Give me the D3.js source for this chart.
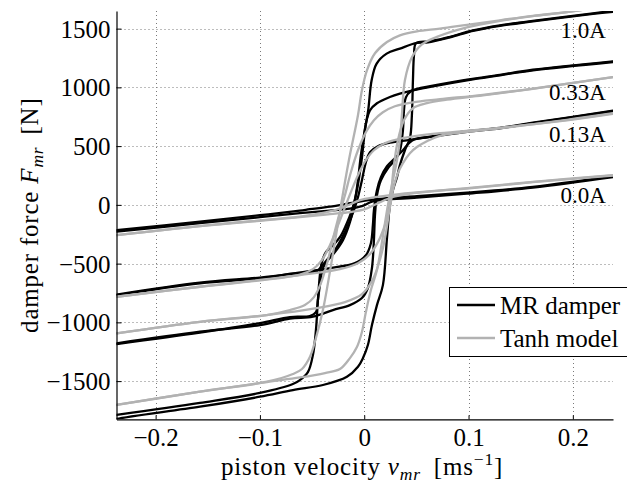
<!DOCTYPE html>
<html>
<head>
<meta charset="utf-8">
<script src="https://cdn.jsdelivr.net/npm/d3@7"></script>
<style>
  html, body { margin: 0; padding: 0; background: #fff; }
  svg text { font-family: "Liberation Serif", "Tinos", "Times New Roman", "Nimbus Roman", "DejaVu Serif", serif; }
</style>
</head>
<body>
<svg id="chart" width="627" height="485"></svg>
<script>
// Piston velocity [m/s] and damper force [N]; each loop is split into the
// branch traced while velocity falls (Up) and the one while it rises (Low).

// Measured MR damper, 0.0 A
const mr00Up = [[0.2385,244],[0.1617,153],[0.0985,104],[0.0505,74],[0.0179,53],[0.0007,36],[-0.0137,14],[-0.0329,-15],[-0.0521,-37],[-0.0617,-49],[-0.1000,-88],[-0.1575,-143],[-0.2374,-215]];
const mr00Low = [[-0.2374,-228],[-0.1575,-156],[-0.1000,-105],[-0.0617,-71],[-0.0329,-49],[-0.0137,-32],[-0.0022,-11],[0.0074,27],[0.0198,44],[0.0505,61],[0.0985,95],[0.1617,146],[0.2385,236]];

// Measured MR damper, 0.13 A
const mr13Up = [[0.2385,801],[0.1617,699],[0.1301,656],[0.0985,627],[0.0659,584],[0.0438,554],[0.0246,529],[0.0131,499],[0.0055,448],[0.0016,363],[-0.0022,210],[-0.0060,65],[-0.0099,-45],[-0.0156,-173],[-0.0214,-283],[-0.0281,-385],[-0.0358,-470],[-0.0415,-530],[-0.0453,-564],[-0.0617,-581],[-0.1000,-619],[-0.1575,-662],[-0.2374,-764]];
const mr13Low = [[-0.2374,-768],[-0.1575,-668],[-0.1000,-626],[-0.0684,-583],[-0.0329,-538],[-0.0089,-496],[0.0016,-428],[0.0064,-326],[0.0083,-173],[0.0093,-45],[0.0122,125],[0.0160,236],[0.0218,329],[0.0294,397],[0.0371,465],[0.0429,525],[0.0486,559],[0.0659,580],[0.0985,622],[0.1301,652],[0.1617,695],[0.2385,797]];

// Measured MR damper, 0.33 A
const mr33Up = [[0.2385,1216],[0.1617,1145],[0.1301,1103],[0.0985,1060],[0.0659,1009],[0.0467,975],[0.0342,947],[0.0246,918],[0.0122,865],[0.0055,805],[0.0023,720],[-0.0003,593],[-0.0032,423],[-0.0060,210],[-0.0089,40],[-0.0137,-147],[-0.0204,-300],[-0.0281,-402],[-0.0348,-470],[-0.0396,-538],[-0.0425,-683],[-0.0444,-810],[-0.0463,-912],[-0.0521,-946],[-0.0712,-955],[-0.1000,-1006],[-0.1575,-1087],[-0.2374,-1184]];
const mr33Low = [[-0.2374,-1179],[-0.1575,-1080],[-0.1000,-1023],[-0.0712,-968],[-0.0492,-951],[-0.0300,-895],[-0.0137,-853],[-0.0022,-793],[0.0035,-708],[0.0074,-538],[0.0093,-300],[0.0103,-88],[0.0122,82],[0.0160,210],[0.0227,312],[0.0294,380],[0.0342,465],[0.0371,635],[0.0381,805],[0.0400,916],[0.0448,967],[0.0659,1014],[0.0985,1065],[0.1301,1107],[0.1617,1150],[0.2385,1222]];

// Measured MR damper, 1.0 A
const mr10Up = [[0.2385,1643],[0.2193,1626],[0.1617,1562],[0.1301,1524],[0.1042,1481],[0.0822,1426],[0.0611,1383],[0.0505,1378],[0.0342,1330],[0.0215,1287],[0.0119,1202],[0.0071,1060],[0.0038,805],[0.0007,635],[-0.0025,380],[-0.0070,125],[-0.0118,-45],[-0.0175,-173],[-0.0233,-275],[-0.0300,-343],[-0.0367,-402],[-0.0406,-487],[-0.0425,-598],[-0.0444,-810],[-0.0463,-1065],[-0.0492,-1278],[-0.0540,-1423],[-0.0617,-1491],[-0.0684,-1525],[-0.1000,-1601],[-0.1575,-1686],[-0.2374,-1788]];
const mr10Low = [[-0.2438,-1839],[-0.2374,-1822],[-0.1575,-1718],[-0.1000,-1633],[-0.0684,-1576],[-0.0396,-1533],[-0.0166,-1463],[-0.0060,-1377],[-0.0012,-1304],[0.0035,-1193],[0.0074,-1023],[0.0122,-853],[0.0179,-683],[0.0218,-283],[0.0246,-3],[0.0275,125],[0.0314,236],[0.0342,338],[0.0390,465],[0.0438,567],[0.0457,763],[0.0467,1060],[0.0477,1273],[0.0496,1375],[0.0611,1392],[0.0726,1409],[0.0822,1430],[0.1042,1485],[0.1301,1528],[0.1617,1566],[0.2193,1630],[0.2385,1651]];

// Tanh model, 0.0 A
const tanh00Up = [[0.2385,253],[0.1617,196],[0.0985,142],[0.0534,108],[0.0294,87],[0.0103,65],[-0.0041,40],[-0.0156,-3],[-0.0281,-45],[-0.0521,-88],[-0.0617,-100],[-0.1575,-181],[-0.2374,-258]];
const tanh00Low = [[-0.2374,-258],[-0.1575,-181],[-0.0617,-105],[-0.0329,-79],[-0.0137,-62],[0.0007,-37],[0.0131,14],[0.0266,65],[0.0438,95],[0.0726,121],[0.0985,139],[0.1617,193],[0.2385,250]];

// Tanh model, 0.13 A
const tanh13Up = [[0.2385,780],[0.1943,724],[0.1301,656],[0.0726,610],[0.0486,584],[0.0323,559],[0.0198,525],[0.0093,465],[0.0016,380],[-0.0060,253],[-0.0128,108],[-0.0195,-45],[-0.0262,-198],[-0.0329,-343],[-0.0406,-470],[-0.0492,-547],[-0.0617,-594],[-0.1575,-697],[-0.2374,-782]];
const tanh13Low = [[-0.2374,-782],[-0.1575,-697],[-0.0617,-598],[-0.0233,-547],[-0.0060,-496],[0.0055,-419],[0.0141,-300],[0.0198,-173],[0.0246,-20],[0.0275,125],[0.0323,270],[0.0371,355],[0.0438,440],[0.0505,493],[0.0601,542],[0.0726,588],[0.1301,652],[0.1943,720],[0.2385,775]];

// Tanh model, 0.33 A
const tanh33Up = [[0.2385,1088],[0.1617,990],[0.1138,937],[0.0726,899],[0.0467,873],[0.0294,839],[0.0179,788],[0.0093,720],[0.0016,618],[-0.0060,465],[-0.0128,278],[-0.0185,82],[-0.0233,-62],[-0.0291,-258],[-0.0348,-470],[-0.0415,-666],[-0.0482,-785],[-0.0569,-853],[-0.0712,-895],[-0.0936,-938],[-0.1575,-995],[-0.2374,-1093]];
const tanh33Low = [[-0.2374,-1093],[-0.1575,-995],[-0.0936,-938],[-0.0473,-881],[-0.0185,-827],[-0.0022,-759],[0.0074,-649],[0.0141,-496],[0.0189,-326],[0.0227,-130],[0.0256,82],[0.0285,338],[0.0323,550],[0.0381,720],[0.0467,822],[0.0601,865],[0.0793,895],[0.1138,931],[0.1617,988],[0.2385,1088]];

// Tanh model, 1.0 A
const tanh10Up = [[0.2452,1711],[0.1943,1641],[0.1617,1609],[0.1301,1571],[0.0985,1532],[0.0726,1500],[0.0505,1477],[0.0342,1443],[0.0218,1386],[0.0103,1290],[0.0026,1145],[-0.0022,975],[-0.0060,763],[-0.0147,380],[-0.0223,-3],[-0.0310,-470],[-0.0396,-895],[-0.0463,-1133],[-0.0521,-1295],[-0.0597,-1397],[-0.0684,-1440],[-0.0933,-1505],[-0.1575,-1590],[-0.2374,-1703]];
const tanh10Low = [[-0.2374,-1703],[-0.1575,-1590],[-0.0933,-1508],[-0.0617,-1469],[-0.0377,-1431],[-0.0233,-1397],[-0.0137,-1304],[-0.0070,-1210],[-0.0022,-1082],[0.0016,-912],[0.0064,-725],[0.0122,-555],[0.0170,-317],[0.0227,-3],[0.0275,210],[0.0314,380],[0.0342,550],[0.0361,763],[0.0390,1060],[0.0457,1256],[0.0553,1366],[0.0697,1430],[0.0985,1511],[0.1301,1566],[0.1617,1607],[0.1943,1640],[0.2452,1710]];

// Axis ticks and curve labels
const velocityTicks = [-0.2, -0.1, 0, 0.1, 0.2];
const forceTicks = [-1500, -1000, -500, 0, 500, 1000, 1500];
const currentNames = ["1.0A", "0.33A", "0.13A", "0.0A"];
const legendNames = ["MR damper", "Tanh model"];

// ---------------------------------------------------------------------------
const svg = d3.select("#chart");
const serif = "'Liberation Serif', 'Tinos', 'Times New Roman', 'Nimbus Roman', 'DejaVu Serif', serif";
const plot = { left: 116.5, right: 613, top: 11, bottom: 419.3 };
const black = "#000", grey = "#b2b2b2";
const fs = 25;

const x = d3.scaleLinear().domain([-0.2375, 0.2385]).range([plot.left, plot.right]);
const y = d3.scaleLinear().domain([-1825, 1650]).range([plot.bottom, plot.top]);

svg.append("defs").append("clipPath").attr("id", "plotClip")
  .append("rect")
  .attr("x", plot.left).attr("y", plot.top)
  .attr("width", plot.right - plot.left).attr("height", plot.bottom - plot.top);

// dotted grid
const grid = svg.append("g").attr("stroke", "#7a7a7a").attr("stroke-width", 1)
  .attr("stroke-dasharray", "1,3");
grid.selectAll("line.gx").data(velocityTicks).join("line")
  .attr("x1", d => Math.round(x(d)) + 0.5).attr("x2", d => Math.round(x(d)) + 0.5)
  .attr("y1", plot.top).attr("y2", plot.bottom);
grid.selectAll("line.gy").data(forceTicks).join("line")
  .attr("y1", d => Math.round(y(d)) + 0.5).attr("y2", d => Math.round(y(d)) + 0.5)
  .attr("x1", plot.left).attr("x2", plot.right);

// hysteresis loops
const line = d3.line().x(d => x(d[0])).y(d => y(d[1])).curve(d3.curveCatmullRom.alpha(0.5));
const curves = svg.append("g").attr("clip-path", "url(#plotClip)").attr("fill", "none")
  .attr("stroke-linejoin", "round").attr("stroke-linecap", "round");

const measured = [mr00Up, mr00Low, mr13Up, mr13Low, mr33Up, mr33Low, mr10Up, mr10Low];
const model = [tanh00Up, tanh00Low, tanh13Up, tanh13Low, tanh33Up, tanh33Low, tanh10Up, tanh10Low];

curves.selectAll("path.mr").data(measured).join("path")
  .attr("class", "mr").attr("d", line).attr("stroke", black).attr("stroke-width", 2.3);
curves.selectAll("path.tanh").data(model).join("path")
  .attr("class", "tanh").attr("d", line).attr("stroke", grey).attr("stroke-width", 2.3);

// axes: left and bottom only, ticks pointing inwards
const xAxis = d3.axisBottom(x).tickValues(velocityTicks).tickSizeInner(-4).tickSizeOuter(0)
  .tickPadding(10).tickFormat(d => d === 0 ? "0" : d3.format(".1f")(d));
const yAxis = d3.axisLeft(y).tickValues(forceTicks).tickSizeInner(-5).tickSizeOuter(0)
  .tickPadding(6).tickFormat(d3.format("d"));

const gx = svg.append("g").attr("transform", `translate(0,${plot.bottom})`).call(xAxis);
const gy = svg.append("g").attr("transform", `translate(${plot.left},0)`).call(yAxis);
[gx, gy].forEach(g => {
  g.attr("font-family", serif).attr("font-size", fs);
  g.select(".domain").attr("stroke", black).attr("stroke-width", 1.2);
  g.selectAll(".tick line").attr("stroke", black).attr("stroke-width", 1);
  g.selectAll(".tick text").attr("fill", black)
    .style("font-family", serif).style("font-size", fs + "px");
});
gx.selectAll(".tick text").attr("dy", "0.68em");
gy.selectAll(".tick text").attr("dy", "0.34em");

// axis titles
const sub = fs * 0.7;
const xTitle = svg.append("text").attr("x", 362).attr("y", 475)
  .attr("text-anchor", "middle").style("font-family", serif).style("font-size", fs + "px")
  .style("letter-spacing", "0.8px").attr("fill", black);
xTitle.append("tspan").text("piston velocity ");
xTitle.append("tspan").attr("font-style", "italic").text("v");
xTitle.append("tspan").attr("font-style", "italic").style("font-size", sub + "px").attr("dy", 5).text("mr");
xTitle.append("tspan").attr("dy", -5).attr("dx", 6).text(" [ms");
xTitle.append("tspan").style("font-size", sub + "px").attr("dy", -10).text("\u22121");
xTitle.append("tspan").attr("dy", 10).text("]");

const yTitle = svg.append("text")
  .attr("transform", `translate(38,${(plot.top + plot.bottom) / 2}) rotate(-90)`)
  .attr("text-anchor", "middle").style("font-family", serif).style("font-size", fs + "px")
  .style("letter-spacing", "0.8px").attr("fill", black);
yTitle.append("tspan").text("damper force ");
yTitle.append("tspan").attr("font-style", "italic").text("F");
yTitle.append("tspan").attr("font-style", "italic").style("font-size", sub + "px").attr("dy", 5).text("mr");
yTitle.append("tspan").attr("dy", -5).attr("dx", 5).text(" [N]");

// current labels at the right-hand end of each loop
const labelForce = [1417, 890, 533, 14];
svg.append("g").selectAll("text").data(currentNames).join("text")
  .attr("x", x(0.2317)).attr("y", (d, i) => y(labelForce[i]))
  .attr("text-anchor", "end").style("font-family", serif).style("font-size", "23px")
  .attr("fill", black).text(d => d);

// legend
const lg = svg.append("g").attr("transform", "translate(449,287)");
lg.append("rect").attr("x", 0.5).attr("y", 0.5).attr("width", 180).attr("height", 69)
  .attr("fill", "#fff").attr("stroke", black).attr("stroke-width", 1);
legendNames.forEach((name, i) => {
  const cy = 18 + i * 33;
  lg.append("line").attr("x1", 8).attr("x2", 46).attr("y1", cy).attr("y2", cy)
    .attr("stroke", i === 0 ? black : grey).attr("stroke-width", 2.3);
  lg.append("text").attr("x", 51).attr("y", cy + 8.5)
    .style("font-family", serif).style("font-size", fs + "px")
    .attr("fill", black).text(name);
});
</script>
</body>
</html>
